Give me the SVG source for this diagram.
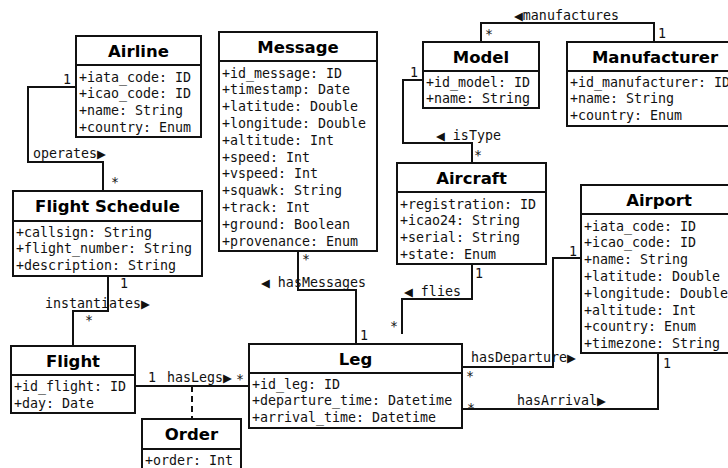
<svg xmlns="http://www.w3.org/2000/svg" width="728" height="468" viewBox="0 0 728 468">
<style>
.box{fill:#fff;stroke:#111;stroke-width:2}
.sep{stroke:#111;stroke-width:2}
.t{font-family:"DejaVu Sans",sans-serif;font-weight:bold;font-size:16.5px;text-anchor:middle;fill:#000}
.a{font-family:"DejaVu Sans Mono",monospace;font-size:13.3px;fill:#111}
.c{fill:none;stroke:#111;stroke-width:2}
.d{fill:none;stroke:#111;stroke-width:2;stroke-dasharray:6,4}
.l{font-family:"DejaVu Sans Mono",monospace;font-size:13.3px;fill:#111}
.ar{font-family:"DejaVu Sans",sans-serif;font-size:11.5px}
</style>
<rect width="728" height="468" fill="#fff"/>
<g id="connectors">
<path class="c" d="M481,42 V23 H654 V42"/>
<path class="c" d="M423,80 H403 V143 H472 V163"/>
<path class="c" d="M472,264 V299 H402 V334"/>
<path class="c" d="M298,251 V290 H356 V344"/>
<path class="c" d="M76,87 H28 V162 H103 V191"/>
<path class="c" d="M108,276 V311 H73 V346"/>
<path class="c" d="M135,386 H249"/>
<path class="d" d="M192,386 V419"/>
<path class="c" d="M581,258 H553 V367 H462"/>
<path class="c" d="M462,409 H658 V353"/>
<text class="l" x="514" y="20"><tspan class="ar">◀</tspan>manufactures</text>
<text class="l" x="485" y="39">*</text>
<text class="l" x="658" y="38">1</text>
<text class="l" x="410" y="77">1</text>
<text class="l" x="436" y="140"><tspan class="ar">◀</tspan> isType</text>
<text class="l" x="474" y="160">*</text>
<text class="l" x="475" y="278">1</text>
<text class="l" x="404" y="296"><tspan class="ar">◀</tspan> flies</text>
<text class="l" x="390" y="331">*</text>
<text class="l" x="302" y="264">*</text>
<text class="l" x="261" y="287"><tspan class="ar">◀</tspan> hasMessages</text>
<text class="l" x="360" y="340">1</text>
<text class="l" x="63" y="84">1</text>
<text class="l" x="33" y="158">operates<tspan class="ar">▶</tspan></text>
<text class="l" x="111" y="187">*</text>
<text class="l" x="120" y="288">1</text>
<text class="l" x="45" y="308">instantiates<tspan class="ar">▶</tspan></text>
<text class="l" x="85" y="325">*</text>
<text class="l" x="148" y="382">1</text>
<text class="l" x="167" y="382">hasLegs<tspan class="ar">▶</tspan></text>
<text class="l" x="236" y="384">*</text>
<text class="l" x="471" y="362">hasDeparture<tspan class="ar">▶</tspan></text>
<text class="l" x="466" y="381">*</text>
<text class="l" x="569" y="256">1</text>
<text class="l" x="517" y="405">hasArrival<tspan class="ar">▶</tspan></text>
<text class="l" x="467" y="413">*</text>
<text class="l" x="663" y="368">1</text>
</g>
<g id="airline">
<rect class="box" x="76" y="36" width="125" height="101"/>
<line class="sep" x1="76" y1="65" x2="201" y2="65"/>
<text class="t" x="138.5" y="56.5">Airline</text>
<text class="a" x="79" y="81.5">+iata_code: ID</text>
<text class="a" x="79" y="98.3">+icao_code: ID</text>
<text class="a" x="79" y="115.1">+name: String</text>
<text class="a" x="79" y="131.9">+country: Enum</text>
</g>
<g id="message">
<rect class="box" x="219" y="32" width="158" height="219"/>
<line class="sep" x1="219" y1="61" x2="377" y2="61"/>
<text class="t" x="298" y="52.5">Message</text>
<text class="a" x="222" y="77.5">+id_message: ID</text>
<text class="a" x="222" y="94.3">+timestamp: Date</text>
<text class="a" x="222" y="111.1">+latitude: Double</text>
<text class="a" x="222" y="127.9">+longitude: Double</text>
<text class="a" x="222" y="144.7">+altitude: Int</text>
<text class="a" x="222" y="161.5">+speed: Int</text>
<text class="a" x="222" y="178.3">+vspeed: Int</text>
<text class="a" x="222" y="195.1">+squawk: String</text>
<text class="a" x="222" y="211.9">+track: Int</text>
<text class="a" x="222" y="228.7">+ground: Boolean</text>
<text class="a" x="222" y="245.5">+provenance: Enum</text>
</g>
<g id="model">
<rect class="box" x="423" y="42" width="116" height="66"/>
<line class="sep" x1="423" y1="71" x2="539" y2="71"/>
<text class="t" x="481" y="62.5">Model</text>
<text class="a" x="426" y="86.5">+id_model: ID</text>
<text class="a" x="426" y="103.3">+name: String</text>
</g>
<g id="manufacturer">
<rect class="box" x="567" y="42" width="180" height="84"/>
<line class="sep" x1="567" y1="71" x2="747" y2="71"/>
<text class="t" x="655" y="62.5">Manufacturer</text>
<text class="a" x="570" y="86.5">+id_manufacturer: ID</text>
<text class="a" x="570" y="103.3">+name: String</text>
<text class="a" x="570" y="120.1">+country: Enum</text>
</g>
<g id="aircraft">
<rect class="box" x="397" y="163" width="149" height="101"/>
<line class="sep" x1="397" y1="192" x2="546" y2="192"/>
<text class="t" x="471.5" y="183.5">Aircraft</text>
<text class="a" x="400" y="208.5">+registration: ID</text>
<text class="a" x="400" y="225.3">+icao24: String</text>
<text class="a" x="400" y="242.1">+serial: String</text>
<text class="a" x="400" y="258.9">+state: Enum</text>
</g>
<g id="airport">
<rect class="box" x="581" y="185" width="170" height="168"/>
<line class="sep" x1="581" y1="214" x2="751" y2="214"/>
<text class="t" x="659" y="205.5">Airport</text>
<text class="a" x="584" y="230.5">+iata_code: ID</text>
<text class="a" x="584" y="247.3">+icao_code: ID</text>
<text class="a" x="584" y="264.1">+name: String</text>
<text class="a" x="584" y="280.9">+latitude: Double</text>
<text class="a" x="584" y="297.7">+longitude: Double</text>
<text class="a" x="584" y="314.5">+altitude: Int</text>
<text class="a" x="584" y="331.3">+country: Enum</text>
<text class="a" x="584" y="348.1">+timezone: String</text>
</g>
<g id="flight-schedule">
<rect class="box" x="13" y="191" width="189" height="85"/>
<line class="sep" x1="13" y1="221" x2="202" y2="221"/>
<text class="t" x="107.5" y="212">Flight Schedule</text>
<text class="a" x="16" y="236.5">+callsign: String</text>
<text class="a" x="16" y="253.3">+flight_number: String</text>
<text class="a" x="16" y="270.1">+description: String</text>
</g>
<g id="flight">
<rect class="box" x="11" y="346" width="124" height="67"/>
<line class="sep" x1="11" y1="375" x2="135" y2="375"/>
<text class="t" x="73" y="366.5">Flight</text>
<text class="a" x="14" y="391">+id_flight: ID</text>
<text class="a" x="14" y="407.8">+day: Date</text>
</g>
<g id="leg">
<rect class="box" x="249" y="344" width="213" height="84"/>
<line class="sep" x1="249" y1="373" x2="462" y2="373"/>
<text class="t" x="355.5" y="364.5">Leg</text>
<text class="a" x="252" y="388.5">+id_leg: ID</text>
<text class="a" x="252" y="405.3">+departure_time: Datetime</text>
<text class="a" x="252" y="422.1">+arrival_time: Datetime</text>
</g>
<g id="order">
<rect class="box" x="142" y="419" width="99" height="60"/>
<line class="sep" x1="142" y1="449" x2="241" y2="449"/>
<text class="t" x="191.5" y="440">Order</text>
<text class="a" x="145" y="464.5">+order: Int</text>
</g>
</svg>
